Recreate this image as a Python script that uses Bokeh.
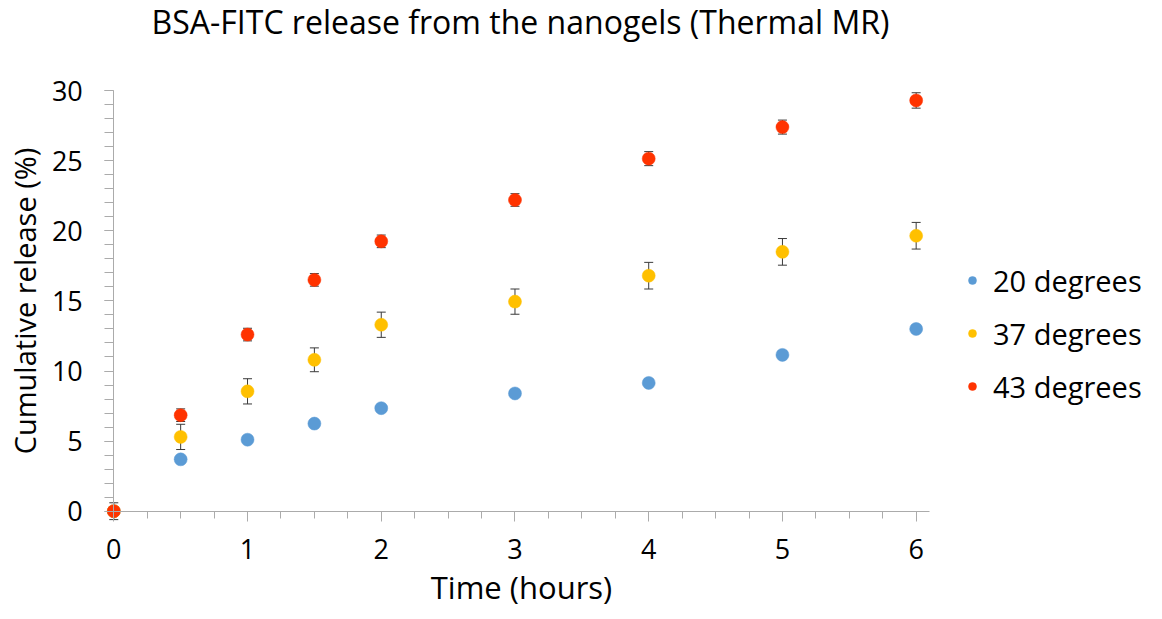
from bokeh.plotting import figure
from bokeh.models import (ColumnDataSource, Whisker, TeeHead, Legend, LegendItem,
                          FixedTicker, Range1d, LinearAxis, Label)
from bokeh.embed import file_html
from bokeh.resources import INLINE

# Cumulative BSA-FITC release (%) over time at three temperatures
hours = [0, 0.5, 1, 1.5, 2, 3, 4, 5, 6]
release_20 = [0, 3.7, 5.1, 6.25, 7.35, 8.4, 9.15, 11.15, 13.0]
release_37 = [0, 5.3, 8.55, 10.8, 13.3, 14.95, 16.8, 18.5, 19.65]
err_37 = [0, 0.9, 0.9, 0.85, 0.9, 0.9, 0.95, 0.95, 0.95]
release_43 = [0, 6.85, 12.6, 16.5, 19.25, 22.2, 25.15, 27.4, 29.3]
err_43 = [0.6, 0.45, 0.45, 0.45, 0.45, 0.45, 0.5, 0.5, 0.55]

series_labels = ["20 degrees", "37 degrees", "43 degrees"]
colors = ["#5B9BD5", "#FFC000", "#FF3300"]

x_ticks = [0, 1, 2, 3, 4, 5, 6]
x_minor = [i * 0.25 for i in range(25)]
y_ticks = [0, 5, 10, 15, 20, 25, 30]
y_minor = list(range(31))

FONT = "Open Sans"
AXIS_GRAY = "#ABABAB"

# The frame fills the whole canvas; both axes are pinned to the origin so
# the markers at t = 0 are not cut off by the frame edge.
X_AXIS_END = 6.097
p = figure(width=1162, height=619,
           x_range=Range1d(-0.8472, 7.842), y_range=Range1d(-7.725, 36.43),
           min_border=0, x_axis_location=None, y_axis_location=None,
           output_backend="svg", toolbar_location=None)
p.outline_line_color = None
p.grid.visible = False
p.background_fill_color = "white"
p.border_fill_color = "white"


def style_axis(ax):
    ax.axis_line_color = AXIS_GRAY
    ax.major_tick_line_color = AXIS_GRAY
    ax.minor_tick_line_color = AXIS_GRAY
    ax.major_tick_in = 0
    ax.minor_tick_in = 0
    ax.major_label_text_font = FONT
    ax.major_label_text_font_size = "27px"
    ax.major_label_text_color = "black"
    ax.axis_label_text_font = FONT
    ax.axis_label_text_font_style = "normal"
    ax.axis_label_text_color = "black"


xa = LinearAxis(fixed_location=0, bounds=(0, X_AXIS_END),
                ticker=FixedTicker(ticks=x_ticks, minor_ticks=x_minor),
                axis_label="Time (hours)")
style_axis(xa)
xa.axis_label_text_font_size = "31px"
xa.major_tick_out = 10
xa.minor_tick_out = 7
xa.major_label_standoff = 18
xa.axis_label_standoff = 3
p.add_layout(xa, "below")

ya = LinearAxis(fixed_location=0, bounds=(0, 30),
                ticker=FixedTicker(ticks=y_ticks, minor_ticks=y_minor),
                axis_label="Cumulative release (%)")
style_axis(ya)
ya.axis_label_text_font_size = "29px"
ya.major_tick_out = 9
ya.minor_tick_out = 9
ya.major_label_standoff = 22
ya.axis_label_standoff = 5
p.add_layout(ya, "left")

p.add_layout(Label(x=3.041, y=34.93, text="BSA-FITC release from the nanogels (Thermal MR)",
                   text_align="center", text_baseline="alphabetic",
                   text_font=FONT, text_font_size="32px", text_color="black"))

src = ColumnDataSource(dict(
    x=hours, y20=release_20, y37=release_37, y43=release_43,
    lo37=[v - e for v, e in zip(release_37, err_37)],
    hi37=[v + e for v, e in zip(release_37, err_37)],
    lo43=[v - e for v, e in zip(release_43, err_43)],
    hi43=[v + e for v, e in zip(release_43, err_43)],
))

ERR_COLOR = "#3A3A3A"
for lo, hi in (("lo37", "hi37"), ("lo43", "hi43")):
    w = Whisker(base="x", lower=lo, upper=hi, source=src,
                line_color=ERR_COLOR, line_width=1,
                upper_head=TeeHead(size=9, line_color=ERR_COLOR, line_width=1),
                lower_head=TeeHead(size=9, line_color=ERR_COLOR, line_width=1),
                level="underlay")
    p.add_layout(w)

renderers = []
for col, color in zip(("y20", "y37", "y43"), colors):
    r = p.scatter("x", col, source=src, size=13, fill_color=color,
                  line_color=color, line_width=0.5)
    renderers.append(r)

legend = Legend(items=[LegendItem(label=lab, renderers=[r])
                       for lab, r in zip(series_labels, renderers)],
                location=(962, 213), orientation="vertical",
                label_text_font=FONT, label_text_font_size="29px",
                label_text_color="black",
                glyph_width=20, glyph_height=20, label_standoff=11,
                label_height=40, spacing=13, padding=0, margin=0,
                border_line_color=None, background_fill_alpha=0)
p.add_layout(legend, "center")

open("out.html", "w").write(file_html(p, INLINE))
